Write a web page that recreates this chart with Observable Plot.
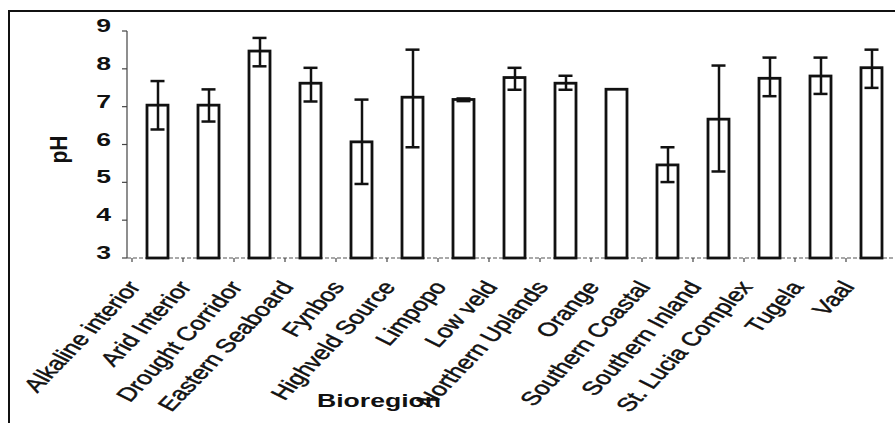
<!DOCTYPE html>
<html><head><meta charset="utf-8">
<script src="https://cdn.jsdelivr.net/npm/d3@7"></script>
<script src="https://cdn.jsdelivr.net/npm/@observablehq/plot@0.6"></script>
<style>
body{margin:0;background:#fff;}
#wrap{position:relative;width:895px;height:423px;overflow:hidden;background:#fff;}
#border{position:absolute;left:8px;top:10px;width:900px;height:430px;border-left:2.5px solid #111;border-top:2px solid #111;pointer-events:none;}
</style></head><body><div id="wrap"><div id="border"></div></div>
<script>
const categories = ["Alkaline interior","Arid Interior","Drought Corridor","Eastern Seaboard","Fynbos","Highveld Source","Limpopo","Low veld","Northern Uplands","Orange","Southern Coastal","Southern Inland","St. Lucia Complex","Tugela","Vaal"];
const values  = [7.04, 7.04, 8.47, 7.62, 6.07, 7.25, 7.19, 7.77, 7.62, 7.46, 5.46, 6.67, 7.75, 7.81, 8.03];
const errLow  = [6.41, 6.62, 8.08, 7.15, 4.97, 5.94, 7.16, 7.46, 7.46, null, 5.02, 5.30, 7.29, 7.35, 7.51];
const errHigh = [7.69, 7.47, 8.83, 8.04, 7.20, 8.52, 7.23, 8.04, 7.83, null, 5.94, 8.10, 8.31, 8.31, 8.52];
const yTicks = [3, 4, 5, 6, 7, 8, 9];
const yLabel = "pH";
const xLabel = "Bioregion";

const data = categories.map((c, i) => ({name: c, value: values[i], low: errLow[i], high: errHigh[i]}));
const withErr = data.filter(d => d.low != null);
const yMin = yTicks[0], yMax = yTicks[yTicks.length - 1];

const FONT = "'Liberation Sans', Arial, Helvetica, sans-serif";
const SX = 1.4; // horizontal stretch of the scanned figure

function axes(index, {x, y}) {
  const g = d3.create("svg:g");
  const [r0, r1] = x.range();
  const y0 = y(yMin);
  g.append("line").attr("x1", r0).attr("x2", r0).attr("y1", y(yMax)).attr("y2", y0)
    .attr("stroke", "#444").attr("stroke-width", 1.2);
  for (const t of yTicks) {
    g.append("line").attr("x1", r0 - 5).attr("x2", r0).attr("y1", y(t)).attr("y2", y(t))
      .attr("stroke", "#444").attr("stroke-width", 1.2);
    g.append("text").attr("text-anchor", "end").attr("font-family", FONT).attr("font-weight", "bold")
      .attr("font-size", 19).attr("fill", "#111")
      .attr("transform", `translate(${r0 - 16},${y(t) + 1}) scale(${SX},1)`).text(String(t));
  }
  g.append("line").attr("x1", r0).attr("x2", r1).attr("y1", y0).attr("y2", y0)
    .attr("stroke", "#555").attr("stroke-width", 1.2).attr("stroke-dasharray", "4,2");
  const gap = (x.step() - x.bandwidth()) / 2;
  const bounds = categories.map(c => x(c) - gap).concat([x(categories[categories.length - 1]) + x.bandwidth() + gap]);
  for (const b of bounds) {
    g.append("line").attr("x1", b).attr("x2", b).attr("y1", y0).attr("y2", y0 + 4)
      .attr("stroke", "#444").attr("stroke-width", 1.2);
  }
  for (const c of categories) {
    g.append("text").attr("text-anchor", "end").attr("font-family", FONT)
      .attr("font-size", 19).attr("fill", "#111").attr("stroke", "#111").attr("stroke-width", 0.45)
      .attr("transform", `translate(${x(c) + x.bandwidth() / 2 - 16},${y0 + 29}) scale(${SX},1) rotate(-55)`)
      .text(c);
  }
  g.append("text").attr("text-anchor", "middle").attr("font-family", FONT).attr("font-weight", "bold")
    .attr("font-size", 21).attr("fill", "#111")
    .attr("transform", `translate(67,${(y(yMax) + y0) / 2 + 5}) scale(1.15,1) rotate(-90)`).text(yLabel);
  g.append("text").attr("text-anchor", "middle").attr("font-family", FONT).attr("font-weight", "bold")
    .attr("font-size", 19).attr("fill", "#111")
    .attr("transform", `translate(379,407) scale(${SX},1)`).text(xLabel);
  return g.node();
}

const chart = Plot.plot({
  width: 895,
  height: 423,
  marginLeft: 127,
  marginRight: -7,
  marginTop: 31,
  marginBottom: 165,
  style: {background: "transparent", overflow: "visible"},
  x: {domain: categories, paddingInner: 0.58, paddingOuter: 0.29, axis: null},
  y: {domain: [yMin, yMax], axis: null},
  marks: [
    axes,
    Plot.barY(data, {x: "name", y1: () => yMin, y2: "value", fill: "white", stroke: "#111", strokeWidth: 2.8}),
    Plot.ruleX(withErr, {x: "name", y1: "low", y2: "high", stroke: "#111", strokeWidth: 2.5}),
    Plot.tickY(withErr, {x: "name", y: "low", stroke: "#111", strokeWidth: 2.5, insetLeft: 3.5, insetRight: 3.5}),
    Plot.tickY(withErr, {x: "name", y: "high", stroke: "#111", strokeWidth: 2.5, insetLeft: 3.5, insetRight: 3.5})
  ]
});
chart.style.position = "absolute";
chart.style.left = "0px";
chart.style.top = "0px";
document.getElementById("wrap").prepend(chart);
</script>
</body></html>
